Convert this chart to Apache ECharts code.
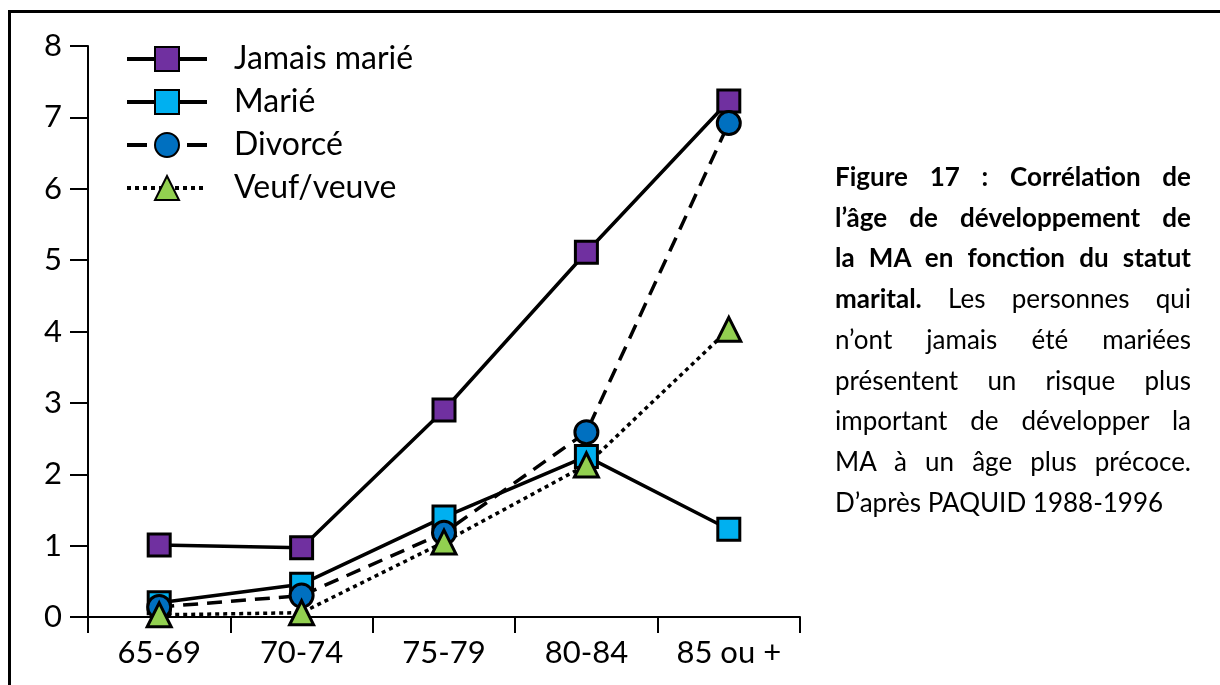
<!DOCTYPE html>
<html>
<head>
<meta charset="utf-8">
<script src="https://cdn.jsdelivr.net/npm/echarts@6/dist/echarts.min.js"></script>
<style>
  html, body { margin: 0; padding: 0; background: #fff; }
  .frame {
    position: absolute; left: 8px; top: 10px; width: 1300px; height: 800px;
    border-top: 3px solid #000; border-left: 3px solid #000;
  }
  #chart { position: absolute; left: 0; top: 0; width: 1220px; height: 685px; }
  .caption {
    position: absolute; left: 835px; top: 156px; width: 356px;
    font-family: Lato, "Open Sans", sans-serif; font-size: 26px; line-height: 40.7px;
    color: #000;
  }
  .caption div { text-align: justify; text-align-last: justify; white-space: nowrap; }
  .caption div.last { text-align-last: left; }
  .caption b { font-weight: bold; }
</style>
</head>
<body>
<div class="frame"></div>
<div id="chart"></div>
<div class="caption">
  <div><b>Figure 17 : Corrélation de</b></div>
  <div><b>l’âge de développement de</b></div>
  <div><b>la MA en fonction du statut</b></div>
  <div><b>marital.</b> Les personnes qui</div>
  <div>n’ont jamais été mariées</div>
  <div>présentent un risque plus</div>
  <div>important de développer la</div>
  <div>MA à un âge plus précoce.</div>
  <div class="last">D’après PAQUID 1988-1996</div>
</div>
<script>
// tranches d'âge
var ageGroups = ['65-69', '70-74', '75-79', '80-84', '85 ou +'];
var yTicks = [0, 1, 2, 3, 4, 5, 6, 7, 8];

// valeurs
var jamaisMarie = [1.01, 0.97, 2.9, 5.11, 7.23];
var marie = [0.2, 0.46, 1.4, 2.25, 1.23];
var divorce = [0.14, 0.3, 1.18, 2.59, 6.92];
var veuf = [0.03, 0.06, 1.05, 2.13, 4.03];

var chart = echarts.init(document.getElementById('chart'));

function serie(name, data, symbol, color, lineType, size) {
  return {
    name: name,
    type: 'line',
    data: data,
    symbol: symbol,
    symbolSize: size,
    showAllSymbol: true,
    lineStyle: { color: '#000', width: 3.5, type: lineType },
    itemStyle: { color: color, borderColor: '#000', borderWidth: 3 },
    emphasis: { disabled: true },
    animation: false
  };
}

var option = {
  textStyle: { fontFamily: 'Lato' },
  grid: { left: 88, right: 420, top: 46, bottom: 68 },
  legend: {
    orient: 'vertical',
    left: 125,
    top: 43,
    padding: 0,
    itemWidth: 80,
    itemHeight: 30,
    itemGap: 11,
    lineStyle: { width: 4 },
    textStyle: { fontSize: 32, color: '#000', padding: [0, 0, 0, 22] },
    data: [
      'Jamais marié',
      'Marié',
      { name: 'Divorcé', lineStyle: { width: 4, type: [20, 40, 20, 40] } },
      'Veuf/veuve'
    ]
  },
  xAxis: {
    type: 'category',
    data: ageGroups,
    boundaryGap: true,
    axisLine: { lineStyle: { color: '#000', width: 2 } },
    axisTick: { show: true, length: 16, lineStyle: { color: '#000', width: 2 } },
    axisLabel: { fontSize: 31, color: '#000', margin: 20 }
  },
  yAxis: {
    type: 'value',
    min: yTicks[0],
    max: yTicks[yTicks.length - 1],
    interval: 1,
    splitLine: { show: false },
    axisLine: { show: true, lineStyle: { color: '#000', width: 2 } },
    axisTick: { show: true, length: 18, lineStyle: { color: '#000', width: 2 } },
    axisLabel: { fontSize: 31, color: '#000', margin: 26 }
  },
  series: [
    serie('Jamais marié', jamaisMarie, 'rect', '#7030A0', 'solid', 22),
    serie('Marié', marie, 'rect', '#00B0F0', 'solid', 22),
    serie('Divorcé', divorce, 'circle', '#0070C0', [15, 9], 23),
    serie('Veuf/veuve', veuf, 'triangle', '#92D050', [4, 4], 24)
  ]
};
chart.setOption(option);
</script>
</body>
</html>
